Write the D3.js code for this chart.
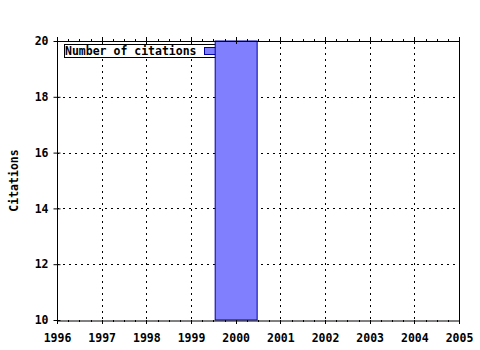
<!DOCTYPE html>
<html><head><meta charset="utf-8">
<script src="https://cdn.jsdelivr.net/npm/d3@7"></script>
<style>body{margin:0;background:#fff}svg{display:block}text{font-family:"DejaVu Sans Mono",monospace;font-weight:bold;font-size:11.5px}</style>
</head><body>
<script>
const years = [2000];
const citations = [20];
const xTicks = [1996,1997,1998,1999,2000,2001,2002,2003,2004,2005];
const yTicks = [10,12,14,16,18,20];
const seriesName = "Number of citations";
const yTitle = "Citations";

const W=480,H=350,L=57,R=459,T=41,B=320,FS=11.5;
const svg=d3.select("body").append("svg").attr("width",W).attr("height",H);
const x=d3.scaleLinear().domain([1996,2005]).range([L,R]);
const y=d3.scaleLinear().domain([10,20]).range([B,T]);

// grid
const g=svg.append("g");
g.selectAll(".vg").data(xTicks.slice(1,-1)).join("line")
 .attr("x1",d=>Math.round(x(d))+0.5).attr("x2",d=>Math.round(x(d))+0.5).attr("y1",T).attr("y2",B)
 .attr("stroke","#000").attr("stroke-dasharray","2,4");
g.selectAll(".hg").data(yTicks.slice(1,-1)).join("line")
 .attr("y1",d=>Math.round(y(d))+0.5).attr("y2",d=>Math.round(y(d))+0.5).attr("x1",L).attr("x2",R)
 .attr("stroke","#000").attr("stroke-dasharray","2,4");

// legend
const lg=svg.append("g");
lg.append("rect").attr("x",64.5).attr("y",44.5).attr("width",160).attr("height",13).attr("fill","#fff").attr("stroke","#000");
lg.append("text").attr("x",65).attr("y",55).attr("font-size",FS).text(seriesName);
lg.append("rect").attr("x",204.5).attr("y",47.5).attr("width",14).attr("height",7).attr("fill","#8080ff").attr("stroke","#0000a0");

// bars
const bw=(x(1)-x(0))*0.94;
svg.selectAll(".bar").data(years).join("rect")
 .attr("x",d=>x(d)-bw/2+0.5).attr("width",bw)
 .attr("y",(d,i)=>y(citations[i])).attr("height",(d,i)=>B-y(citations[i]))
 .attr("fill","#8080ff").attr("stroke","#0000a0");

// axes
const bottom=d3.axisBottom(x).tickValues(xTicks).tickFormat(d3.format("d")).tickSize(0).tickPadding(13);
const ax=svg.append("g").attr("transform",`translate(0,${B+0.5})`).call(bottom);
ax.select(".domain").attr("stroke","#000");
ax.selectAll("text").attr("font-size",FS).attr("font-family","DejaVu Sans Mono").attr("font-weight","bold").attr("fill","#000");
const minorX=d3.range(1996,2005.01,0.25);
svg.append("g").selectAll("line").data(minorX).join("line")
 .attr("x1",d=>Math.round(x(d))+0.5).attr("x2",d=>Math.round(x(d))+0.5)
 .attr("y1",B).attr("y2",d=>Number.isInteger(d)?B+4:B+2).attr("stroke","#000");
svg.append("g").selectAll("line").data(minorX).join("line")
 .attr("x1",d=>Math.round(x(d))+0.5).attr("x2",d=>Math.round(x(d))+0.5)
 .attr("y1",d=>Number.isInteger(d)?T+3:T).attr("y2",d=>Number.isInteger(d)?T-4:T-2).attr("stroke","#000");
svg.append("line").attr("x1",L).attr("x2",R+0.5).attr("y1",T+0.5).attr("y2",T+0.5).attr("stroke","#000");

const left=d3.axisLeft(y).tickValues(yTicks).tickFormat(d3.format("d")).tickSize(4).tickPadding(5);
const ay=svg.append("g").attr("transform",`translate(${L+0.5},0)`).call(left);
ay.select(".domain").remove();
ay.selectAll("text").attr("font-size",FS).attr("font-family","DejaVu Sans Mono").attr("font-weight","bold").attr("fill","#000");
ay.selectAll(".tick line").attr("x2",-4).attr("x1",3);
svg.append("line").attr("x1",L+0.5).attr("x2",L+0.5).attr("y1",T).attr("y2",B+0.5).attr("stroke","#000");
svg.append("line").attr("x1",R+0.5).attr("x2",R+0.5).attr("y1",T).attr("y2",B+0.5).attr("stroke","#000");

svg.append("text").attr("transform",`translate(18,${(T+B)/2}) rotate(-90)`).attr("text-anchor","middle").attr("font-size",FS).text(yTitle);
</script>
</body></html>
